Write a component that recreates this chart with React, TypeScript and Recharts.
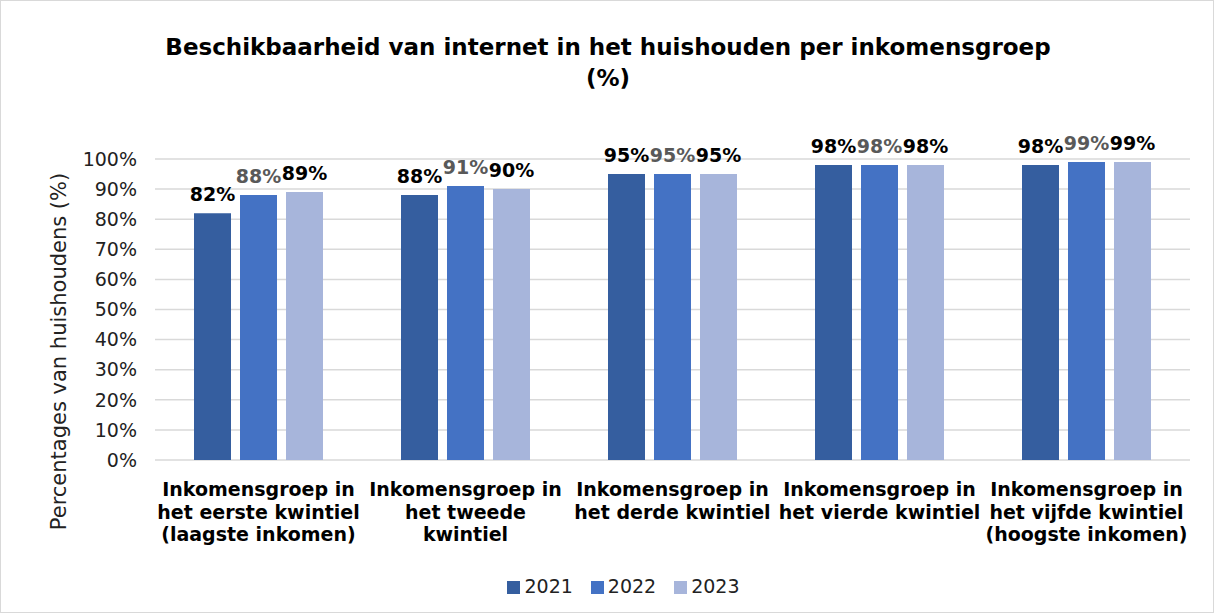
import { BarChart, Bar, XAxis, YAxis, CartesianGrid, Legend, LabelList } from "recharts"

const groups = [
  ["Inkomensgroep in", "het eerste kwintiel", "(laagste inkomen)"],
  ["Inkomensgroep in", "het tweede", "kwintiel"],
  ["Inkomensgroep in", "het derde kwintiel"],
  ["Inkomensgroep in", "het vierde kwintiel"],
  ["Inkomensgroep in", "het vijfde kwintiel", "(hoogste inkomen)"],
]
const y2021 = [82, 88, 95, 98, 98]
const y2022 = [88, 91, 95, 98, 99]
const y2023 = [89, 90, 95, 98, 99]
const yTicks = [0, 10, 20, 30, 40, 50, 60, 70, 80, 90, 100]

const data = groups.map((g, i) => ({
  name: g.join(" "),
  idx: i,
  y2021: y2021[i],
  y2022: y2022[i],
  y2023: y2023[i],
}))

const font = "Tahoma, 'DejaVu Sans', Verdana, sans-serif"

function GroupTick(props: any) {
  const { x, y, payload } = props
  const lines = groups[payload.index] ?? [payload.value]
  return (
    <text x={x} y={y} textAnchor="middle" fontFamily={font} fontWeight="bold" fontSize={19} fill="#000">
      {lines.map((l, i) => (
        <tspan key={i} x={x} dy={i === 0 ? 28 : 22.5}>{l}</tspan>
      ))}
    </text>
  )
}

function YTitle(props: any) {
  const vb = props.viewBox
  const cx = 58
  const cy = vb.y + vb.height / 2 + 42
  return (
    <text x={cx} y={cy} transform={`rotate(-90, ${cx}, ${cy})`} textAnchor="middle" dominantBaseline="central" fontFamily={font} fontSize={21} fill="#222">
      Percentages van huishoudens (%)
    </text>
  )
}

const labelStyle = { fontFamily: font, fontWeight: "bold" as const, fontSize: 19 }
const pct = (v: any) => `${v}%`

export default function App() {
  return (
    <div style={{ position: "absolute", left: 0, top: 0, width: 1212, height: 611, border: "1px solid #d9d9d9", background: "#fff" }}>
      <div style={{ position: "absolute", left: 0, top: 31, width: 1214, textAlign: "center", fontFamily: font, fontWeight: "bold", fontSize: 23, lineHeight: "31px", color: "#000" }}>
        Beschikbaarheid van internet in het huishouden per inkomensgroep
        <br />(%)
      </div>
      <BarChart
        width={1212}
        height={611}
        data={data}
        margin={{ top: 158, right: 23, bottom: 22, left: 74 }}
        barGap={9}
        barCategoryGap={39}
      >
        <CartesianGrid vertical={false} stroke="#d9d9d9" strokeWidth={1.5} />
        <XAxis dataKey="name" axisLine={false} tickLine={false} height={100} interval={0} tick={<GroupTick />} />
        <YAxis
          width={80}
          domain={[0, 100]}
          ticks={yTicks}
          tickFormatter={pct}
          axisLine={false}
          tickLine={false}
          tick={{ fontFamily: font, fontSize: 19, fill: "#222", dx: -10 }}
          label={<YTitle />}
        />
        <Legend
          verticalAlign="bottom"
          height={30}
          iconType="square"
          iconSize={13}
          wrapperStyle={{ fontFamily: font, fontSize: 19, color: "#222", top: 574, bottom: "auto" }}
          formatter={(v: string) => <span style={{ color: "#222", marginRight: 8 }}>{v}</span>}
        />
        <Bar dataKey="y2021" name="2021" fill="#355E9F" isAnimationActive={false}>
          <LabelList dataKey="y2021" position="top" offset={12} formatter={pct} style={{ ...labelStyle, fill: "#000" }} />
        </Bar>
        <Bar dataKey="y2022" name="2022" fill="#4472C4" isAnimationActive={false}>
          <LabelList dataKey="y2022" position="top" offset={12} formatter={pct} style={{ ...labelStyle, fill: "#595959" }} />
        </Bar>
        <Bar dataKey="y2023" name="2023" fill="#A7B5DB" isAnimationActive={false}>
          <LabelList dataKey="y2023" position="top" offset={12} formatter={pct} style={{ ...labelStyle, fill: "#000" }} />
        </Bar>
      </BarChart>
    </div>
  )
}
